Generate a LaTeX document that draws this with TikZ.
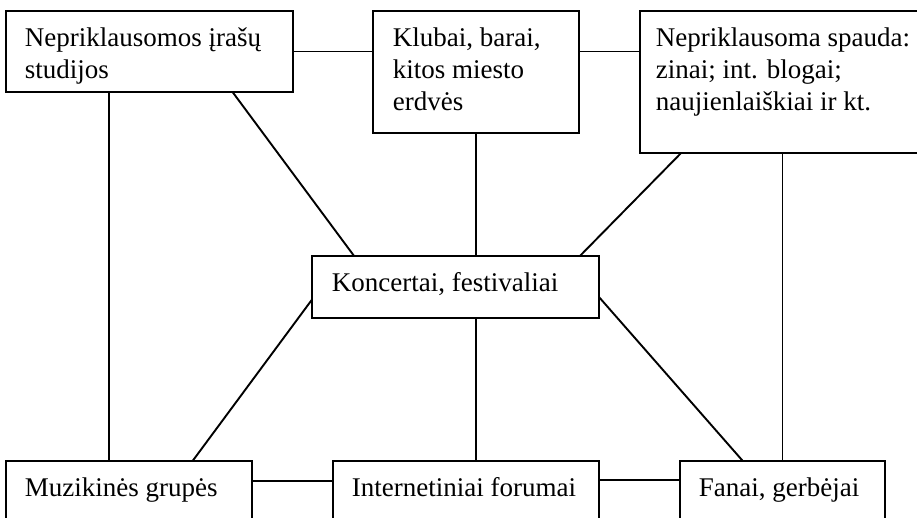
\documentclass[tikz,border=0pt]{standalone}
\usepackage{fontspec}
\setmainfont{Liberation Serif}
\tikzset{
	box/.style={draw, anchor=north west, inner sep=0pt, outer sep=0pt},
	txt/.style={anchor=north west, inner sep=0pt, align=left, font=\fontsize{27}{32}\selectfont}
}
\begin{document}
\begin{tikzpicture}[x=1pt, y=-1pt, line width=1.9pt]
				\useasboundingbox (0,0) rectangle (917,517);
				\clip (0,0) rectangle (917,517);
				\node[box, minimum width=287, minimum height=81] (studijos) at (6,11) {};
				\node[box, minimum width=206, minimum height=122] (klubai) at (373,11) {};
				\node[box, minimum width=285, minimum height=142] (spauda) at (640,11) {};
				\node[box, minimum width=287, minimum height=62] (koncertai) at (312,256) {};
				\node[box, minimum width=246, minimum height=62] (grupes) at (6,461) {};
				\node[box, minimum width=266, minimum height=62] (forumai) at (333,461) {};
				\node[box, minimum width=205, minimum height=62] (fanai) at (680,461) {};
				\node[txt] (studijosT) at (24,27) {Nepriklausomos įrašų\\studijos};
				\node[txt] (klubaiT) at (392,27) {Klubai, barai,\\kitos miesto\\erdvės};
				\node[txt] (spaudaT) at (655,27) {Nepriklausoma spauda:\\zinai; int. blogai;\\naujienlaiškiai ir kt.};
				\node[txt] (koncertaiT) at (331,272) {Koncertai, festivaliai};
				\node[txt] (grupesT) at (24,477) {Muzikinės grupės};
				\node[txt] (forumaiT) at (351,477) {Internetiniai forumai};
				\node[txt] (fanaiT) at (698,477) {Fanai, gerbėjai};
				\draw (studijos.east) -- (studijos.east -| klubai.west);
				\draw (studijos.east -| klubai.east) -- (studijos.east -| spauda.west);
				\draw (studijos.-135.7) -- (studijos.-135.7 |- grupes.north);
				\draw (studijos.-26.14) -- (koncertai.163.17);
				\draw (klubai.south) -- (klubai.south |- koncertai.north);
				\draw (spauda.-145.29) -- (koncertai.14.09);
				\draw (spauda.south) -- (spauda.south |- fanai.north);
				\draw (klubai.south |- koncertai.south) -- (klubai.south |- forumai.north);
				\draw (koncertai.-175.6) -- (grupes.26.57);
				\draw (koncertai.-4.38) -- (fanai.142.57);
				\draw (grupes.5.57) -- (grupes.5.57 -| forumai.west);
				\draw (forumai.5.16) -- (forumai.5.16 -| fanai.west);
			\end{tikzpicture}
\end{document}
